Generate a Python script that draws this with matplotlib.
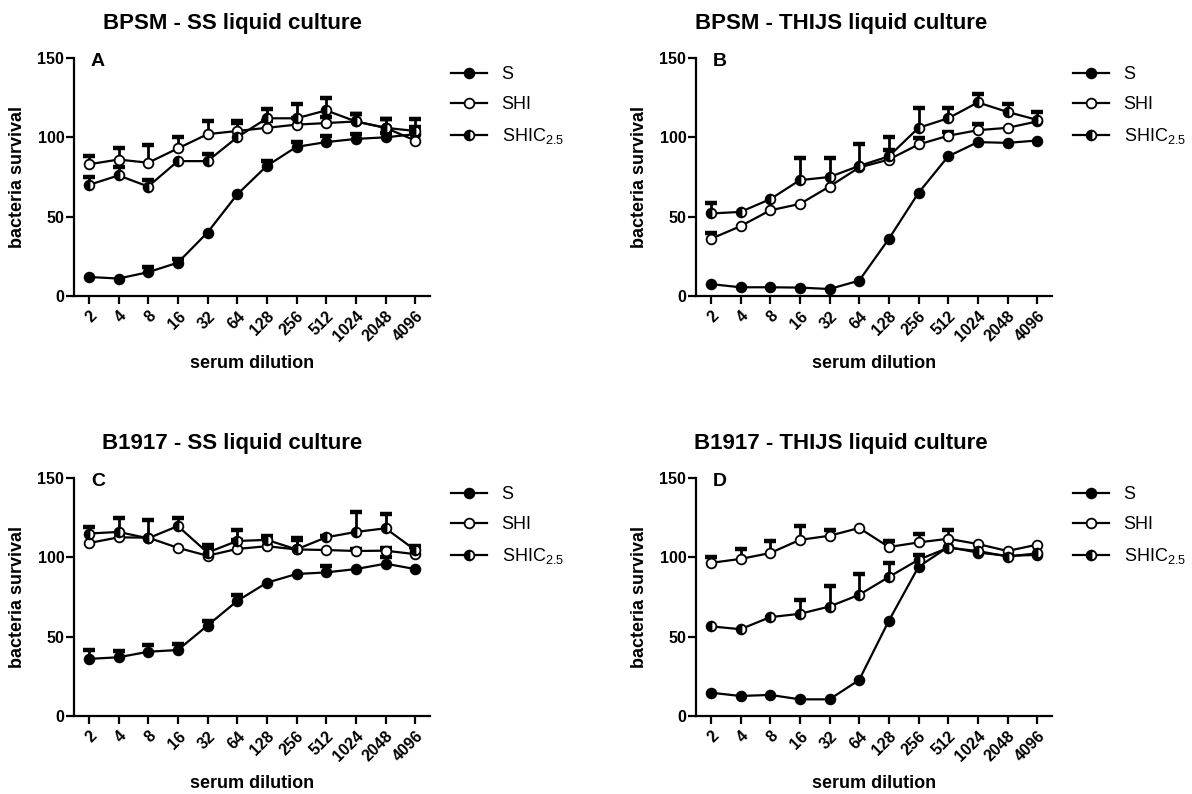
'''
Bacteria survival vs serum dilution, four panels (A-D).
'''

import numpy as np
import matplotlib
matplotlib.use('Agg')
import matplotlib.pyplot as plt

plt.rcParams['font.family'] = ['Liberation Sans', 'DejaVu Sans']
plt.rcParams['mathtext.fontset'] = 'custom'
plt.rcParams['mathtext.rm'] = 'Liberation Sans'

dilutions = ['2', '4', '8', '16', '32', '64', '128', '256', '512', '1024', '2048', '4096']
series_names = ['S', 'SHI', r'SHIC$_{\mathregular{2.5}}$']

titles = ['BPSM - SS liquid culture', 'BPSM - THIJS liquid culture',
          'B1917 - SS liquid culture', 'B1917 - THIJS liquid culture']
letters = ['A', 'B', 'C', 'D']

# panel A
a_s = [12, 11, 15, 21, 40, 64, 82, 94, 97, 99, 100, 102]
a_s_err = [0, 0, 3, 2.5, 0, 0, 3, 3, 4, 3, 2.5, 1.5]
a_shi = [83, 86, 84, 93, 102, 104, 106, 108, 109, 110, 106, 98]
a_shi_err = [5, 7.5, 11, 7, 8.5, 5, 4, 4, 4, 5, 5.5, 8.5]
a_shic = [70, 76, 69, 85, 85, 100, 112, 112, 117, 110, 106, 104]
a_shic_err = [5, 5, 4, 0, 4.5, 10, 6, 9, 7.5, 5, 5.5, 7.5]

# panel B
b_s = [7.5, 5.5, 5.5, 5.3, 4.4, 9.7, 36, 65, 88, 97, 96.5, 98]
b_s_err = [0, 0, 0, 0, 0, 0, 0, 0, 0, 0, 0, 0]
b_shi = [36, 44, 54, 58, 69, 81, 86, 95.5, 101, 104.5, 106, 110]
b_shi_err = [4, 0, 0, 0, 0, 0, 6, 4, 2.5, 4, 0, 0]
b_shic = [52, 53, 61, 73, 75, 82, 88, 106, 112, 122, 116, 111]
b_shic_err = [6.5, 0, 0, 14, 12, 14, 12.5, 12.5, 6.5, 5.5, 5, 5]

# panel C
c_s = [36, 37, 40.5, 41.6, 57, 72.5, 84, 89.5, 90.5, 92.6, 96, 92.6]
c_s_err = [5.5, 4, 4, 3.5, 3, 4, 0, 0, 4, 0, 4, 0]
c_shi = [109, 112.6, 112.4, 106, 101, 105.3, 107, 105, 104.6, 104, 104.2, 102]
c_shi_err = [0, 0, 0, 0, 5.5, 5.5, 5.5, 6, 0, 1.5, 1.5, 4.5]
c_shic = [115, 116, 112, 119.7, 103, 110.3, 111, 105, 112.6, 116, 118.3, 104.6]
c_shic_err = [4, 8.5, 11.5, 5, 5, 7, 2.5, 7, 1, 12.5, 9, 2.5]

# panel D
d_s = [14.7, 12.6, 13.3, 10.5, 10.5, 22.7, 60, 94, 106.5, 103, 101, 101.5]
d_s_err = [0, 0, 0, 0, 0, 0, 0, 0, 0, 0, 0, 0]
d_shi = [96.5, 99, 102.7, 111, 113.6, 118.5, 106.5, 109.4, 111.7, 108.4, 104, 108]
d_shi_err = [4, 6, 7.5, 9, 3.5, 0, 4, 5.5, 5.5, 0, 0, 0]
d_shic = [56.5, 54.7, 62.3, 64.4, 69, 76.4, 87.6, 98.5, 106, 104, 100.5, 102.5]
d_shic_err = [0, 0, 0, 9, 13, 13, 9, 3, 0, 0, 0, 0]

panels = [
    [(a_s, a_s_err), (a_shi, a_shi_err), (a_shic, a_shic_err)],
    [(b_s, b_s_err), (b_shi, b_shi_err), (b_shic, b_shic_err)],
    [(c_s, c_s_err), (c_shi, c_shi_err), (c_shic, c_shic_err)],
    [(d_s, d_s_err), (d_shi, d_shi_err), (d_shic, d_shic_err)],
]

W, H = 1192, 794
# axes boxes in pixels: left, right, top, bottom
boxes = [(74, 430, 58, 296), (696, 1052, 58, 296),
         (74, 430, 478, 716), (696, 1052, 478, 716)]
title_pos = [(232, 24), (841, 24), (232, 444), (841, 444)]

marker_styles = [
    dict(marker='o', markerfacecolor='black', fillstyle='full'),
    dict(marker='o', markerfacecolor='white', fillstyle='full'),
    dict(marker='o', markerfacecolor='black', markerfacecoloralt='white', fillstyle='left'),
]

fig = plt.figure(figsize=(W / 100, H / 100), dpi=100)
x = np.arange(1, len(dilutions) + 1)

for i, (l, r, t, b) in enumerate(boxes):
    ax = fig.add_axes([l / W, 1 - b / H, (r - l) / W, (b - t) / H])
    for j, (vals, err) in enumerate(panels[i]):
        vals = np.array(vals, dtype=float)
        err = np.array(err, dtype=float)
        has = err > 0
        # upper error bars only
        ax.vlines(x[has], vals[has], vals[has] + err[has], color='black', lw=2, zorder=2)
        ax.plot(x[has], vals[has] + err[has], ls='none', marker='_', ms=8, mew=3.2,
                color='black', zorder=2)
        ax.plot(x, vals, color='black', lw=1.6, ms=7, markeredgecolor='black',
                markeredgewidth=1.3, label=series_names[j], zorder=3 + j * 0.1,
                **marker_styles[j])

    ax.set_xlim(0.5, 12.5)
    ax.set_ylim(0, 150)
    ax.set_yticks([0, 50, 100, 150])
    ax.set_xticks(x)
    ax.set_xticklabels(dilutions, rotation=45, ha='right', va='top',
                       rotation_mode='anchor', fontweight='bold', fontsize=11.5)
    for lab in ax.get_yticklabels():
        lab.set_fontweight('bold')
        lab.set_fontsize(11.5)
    ax.spines['top'].set_visible(False)
    ax.spines['right'].set_visible(False)
    ax.spines['left'].set_linewidth(1.6)
    ax.spines['bottom'].set_linewidth(1.6)
    ax.tick_params(axis='both', direction='out', length=6, width=1.6, pad=1)
    ax.tick_params(axis='x', pad=3)
    ax.set_ylabel('bacteria survival', fontsize=13, fontweight='bold')
    ax.yaxis.set_label_coords(-0.135, 0.5)
    ax.set_xlabel('serum dilution', fontsize=13, fontweight='bold')
    ax.xaxis.set_label_coords(0.5, -0.25)

    ax.legend(loc='upper left', bbox_to_anchor=((r + 21) / W, 1 - (t + 8) / H),
              bbox_transform=fig.transFigure, frameon=False, fontsize=13,
              handlelength=2, handletextpad=0.8, labelspacing=0.72,
              borderpad=0, borderaxespad=0)

    fig.text((l + 17) / W, 1 - (t + 8) / H, letters[i], fontsize=14,
             fontweight='bold', ha='left', va='baseline')
    tx, ty = title_pos[i]
    fig.text(tx / W, 1 - ty / H, titles[i], fontsize=16, fontweight='bold',
             ha='center', va='center')

plt.savefig('out.png', dpi=100)
